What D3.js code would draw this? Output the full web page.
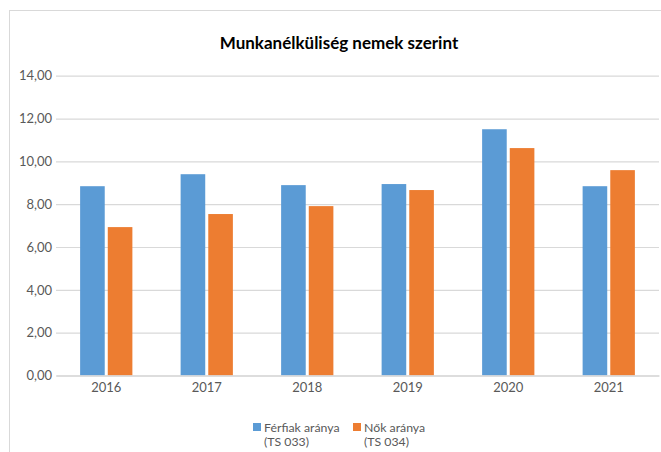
<!DOCTYPE html>
<html>
<head>
<meta charset="utf-8">
<script src="https://cdn.jsdelivr.net/npm/d3@7"></script>
<style>
  body { margin: 0; background: #fff; }
  svg text { font-family: Lato, "Open Sans", sans-serif; }
</style>
</head>
<body>
<div id="chart"></div>
<script>
const years = ['2016', '2017', '2018', '2019', '2020', '2021'];
const ferfiak = [8.84, 9.40, 8.89, 8.94, 11.50, 8.84];
const nok = [6.93, 7.54, 7.91, 8.66, 10.62, 9.59];
const yTicks = [0, 2, 4, 6, 8, 10, 12, 14];
const seriesNames = [['Férfiak aránya', '(TS 033)'], ['Nők aránya', '(TS 034)']];
const colors = ['#5b9bd5', '#ed7d31'];

const width = 661, height = 452;
const margin = { top: 75.7, right: 2, bottom: 76.5, left: 56 };
const innerW = width - margin.left - margin.right;
const innerH = height - margin.top - margin.bottom;

const svg = d3.select('#chart')
    .append('svg')
    .attr('width', width)
    .attr('height', height);

// chart frame
svg.append('rect')
    .attr('x', 9.5).attr('y', 10.5)
    .attr('width', 670).attr('height', 470)
    .attr('fill', 'none')
    .attr('stroke', '#d9d9d9');

svg.append('text')
    .attr('x', 339).attr('y', 49)
    .attr('text-anchor', 'middle')
    .attr('font-size', 17)
    .attr('font-weight', 'bold')
    .attr('fill', '#000')
    .text('Munkanélküliség nemek szerint');

const g = svg.append('g')
    .attr('transform', `translate(${margin.left},${margin.top})`);

const x = d3.scaleBand()
    .domain(years)
    .range([0, innerW])
    .paddingInner(0.48)
    .paddingOuter(0.24);

const x1 = d3.scaleBand()
    .domain([0, 1])
    .range([0, x.bandwidth()])
    .paddingInner(0.11);

const y = d3.scaleLinear()
    .domain([0, 14])
    .range([innerH, 0]);

// gridlines + y labels
const yAxis = g.append('g')
    .call(d3.axisLeft(y).tickValues(yTicks).tickSize(-innerW)
        .tickFormat(d => d3.format('.2f')(d).replace('.', ',')));
yAxis.select('.domain').remove();
yAxis.selectAll('.tick line').attr('stroke', '#d9d9d9').attr('stroke-width', 1.2);
yAxis.selectAll('.tick text')
    .attr('x', -4)
    .attr('font-size', 13)
    .attr('fill', '#595959');

const data = years.map((yr, i) => ({ year: yr, vals: [ferfiak[i], nok[i]] }));

g.selectAll('.grp')
    .data(data)
    .enter()
    .append('g')
    .attr('class', 'grp')
    .attr('transform', d => `translate(${x(d.year)},0)`)
    .selectAll('rect')
    .data(d => d.vals.map((v, k) => ({ k, v })))
    .enter()
    .append('rect')
    .attr('x', d => x1(d.k))
    .attr('y', d => y(d.v))
    .attr('width', x1.bandwidth())
    .attr('height', d => innerH - y(d.v))
    .attr('fill', d => colors[d.k]);

// x axis
const xAxis = g.append('g')
    .attr('transform', `translate(0,${innerH})`)
    .call(d3.axisBottom(x).tickSize(0).tickPadding(7));
xAxis.select('.domain').attr('stroke', '#d9d9d9').attr('stroke-width', 1.5);
xAxis.selectAll('.tick text')
    .attr('font-size', 13)
    .attr('fill', '#595959');

// legend
const legendX = [253, 353];
const legend = svg.selectAll('.leg')
    .data(seriesNames)
    .enter()
    .append('g')
    .attr('class', 'leg')
    .attr('transform', (d, i) => `translate(${legendX[i]},423)`);

legend.append('rect')
    .attr('width', 8).attr('height', 8)
    .attr('fill', (d, i) => colors[i]);

legend.selectAll('text')
    .data(d => d)
    .enter()
    .append('text')
    .attr('x', 11)
    .attr('y', (d, j) => 8.5 + j * 14.5)
    .attr('font-size', 12.3)
    .attr('fill', '#595959')
    .text(d => d);
</script>
</body>
</html>
